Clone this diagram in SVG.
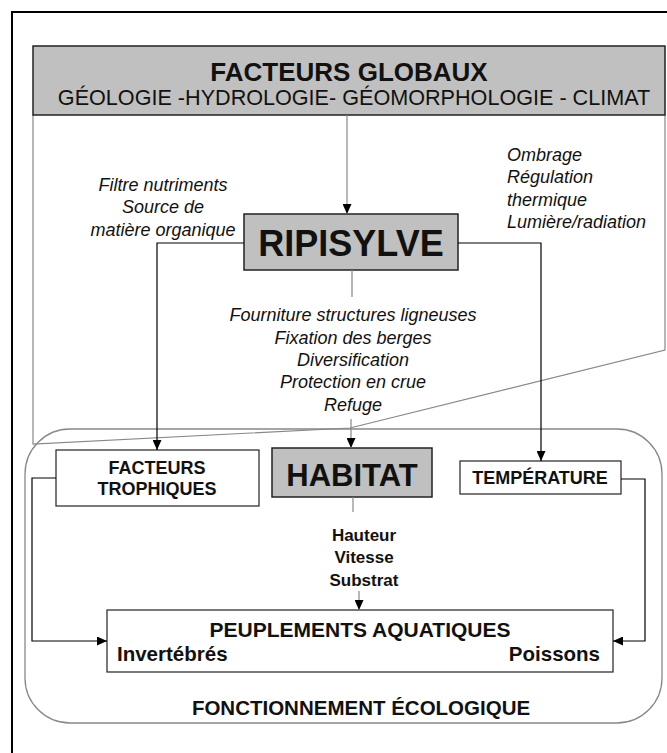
<svg xmlns="http://www.w3.org/2000/svg" width="667" height="753" viewBox="0 0 667 753">
<defs>
<marker id="arr" markerUnits="userSpaceOnUse" markerWidth="10" markerHeight="9" refX="10" refY="4.5" orient="auto">
<path d="M0,0 L10,4.5 L0,9 z" fill="#000"/>
</marker>
<style>
text{font-family:"Liberation Sans",Arial,sans-serif;fill:#111}
.b{font-weight:bold}
.i{font-style:italic;font-size:18px}
.grey{fill:#c0c0c0;stroke:#222;stroke-width:1.5}
.box{fill:#fff;stroke:#222;stroke-width:1.2}
.c{fill:none;stroke:#000;stroke-width:1.2}
.g{fill:none;stroke:#888;stroke-width:1.2}
</style>
</defs>
<rect width="667" height="753" fill="#fff"/>
<rect x="12" y="12" width="680" height="780" fill="none" stroke="#000" stroke-width="2"/>

<g id="ecologie">
<rect x="25" y="429" width="637" height="294" rx="45" ry="45" fill="none" stroke="#888" stroke-width="1.3"/>
<text x="361" y="715" class="b" font-size="20.5" text-anchor="middle">FONCTIONNEMENT ÉCOLOGIQUE</text>
</g>

<g id="zone-ripisylve">
<path class="g" d="M33,115 L33,444 L350,428 L665,350 L665,115"/>
</g>

<g id="facteurs-globaux">
<rect class="grey" x="33" y="46" width="632" height="69" stroke="#666"/>
<text x="349" y="81" class="b" font-size="26" text-anchor="middle">FACTEURS GLOBAUX</text>
<text x="354" y="105" font-size="21.6" text-anchor="middle">GÉOLOGIE -HYDROLOGIE- GÉOMORPHOLOGIE - CLIMAT</text>
</g>

<g id="ripisylve">
<rect class="grey" x="244" y="214" width="214" height="56"/>
<text x="351" y="256" class="b" font-size="36" text-anchor="middle">RIPISYLVE</text>
</g>

<g id="habitat">
<rect class="grey" x="272" y="448" width="160" height="49"/>
<text x="352" y="486" class="b" font-size="31" text-anchor="middle">HABITAT</text>
</g>

<g id="facteurs-trophiques">
<rect class="box" x="56" y="450" width="203" height="56"/>
<text x="157" y="474" class="b" font-size="18" text-anchor="middle">FACTEURS</text>
<text x="157" y="495" class="b" font-size="18" text-anchor="middle">TROPHIQUES</text>
</g>

<g id="temperature">
<rect class="box" x="460" y="461" width="161" height="33"/>
<text x="540" y="484" class="b" font-size="18" text-anchor="middle">TEMPÉRATURE</text>
</g>

<g id="peuplements">
<rect class="box" x="107" y="610" width="506" height="62"/>
<text x="360" y="637" class="b" font-size="21" text-anchor="middle">PEUPLEMENTS AQUATIQUES</text>
<text x="117" y="661" class="b" font-size="20.5">Invertébrés</text>
<text x="600" y="661" class="b" font-size="20.5" text-anchor="end">Poissons</text>
</g>

<g id="labels">
<text class="i" text-anchor="middle"><tspan x="163" y="191">Filtre nutriments</tspan><tspan x="163" y="213">Source de</tspan><tspan x="163" y="236">matière organique</tspan></text>
<text class="i"><tspan x="507" y="161">Ombrage</tspan><tspan x="507" y="183">Régulation</tspan><tspan x="507" y="206">thermique</tspan><tspan x="507" y="228">Lumière/radiation</tspan></text>
<text class="i" text-anchor="middle"><tspan x="353" y="321">Fourniture structures ligneuses</tspan><tspan x="353" y="344">Fixation des berges</tspan><tspan x="353" y="366">Diversification</tspan><tspan x="353" y="388">Protection en crue</tspan><tspan x="353" y="411">Refuge</tspan></text>
<text class="b" font-size="17" text-anchor="middle"><tspan x="364" y="541">Hauteur</tspan><tspan x="364" y="563">Vitesse</tspan><tspan x="364" y="586">Substrat</tspan></text>
</g>

<g id="connectors">
<line class="g" x1="347" y1="115" x2="347" y2="214" stroke="#555" marker-end="url(#arr)"/>
<polyline class="c" points="244,243 157,243 157,450" marker-end="url(#arr)"/>
<polyline class="c" points="458,243 541,243 541,461" marker-end="url(#arr)"/>
<line class="g" x1="352" y1="270" x2="352" y2="297"/>
<line class="g" x1="351" y1="419" x2="351" y2="448" stroke="#555" marker-end="url(#arr)"/>
<line class="g" x1="353" y1="497" x2="353" y2="512"/>
<line class="g" x1="359" y1="591" x2="359" y2="610" stroke="#555" marker-end="url(#arr)"/>
<polyline class="c" points="56,478 32,478 32,641 107,641" marker-end="url(#arr)"/>
<polyline class="c" points="621,479 645,479 645,641 613,641" marker-end="url(#arr)"/>
</g>
</svg>
